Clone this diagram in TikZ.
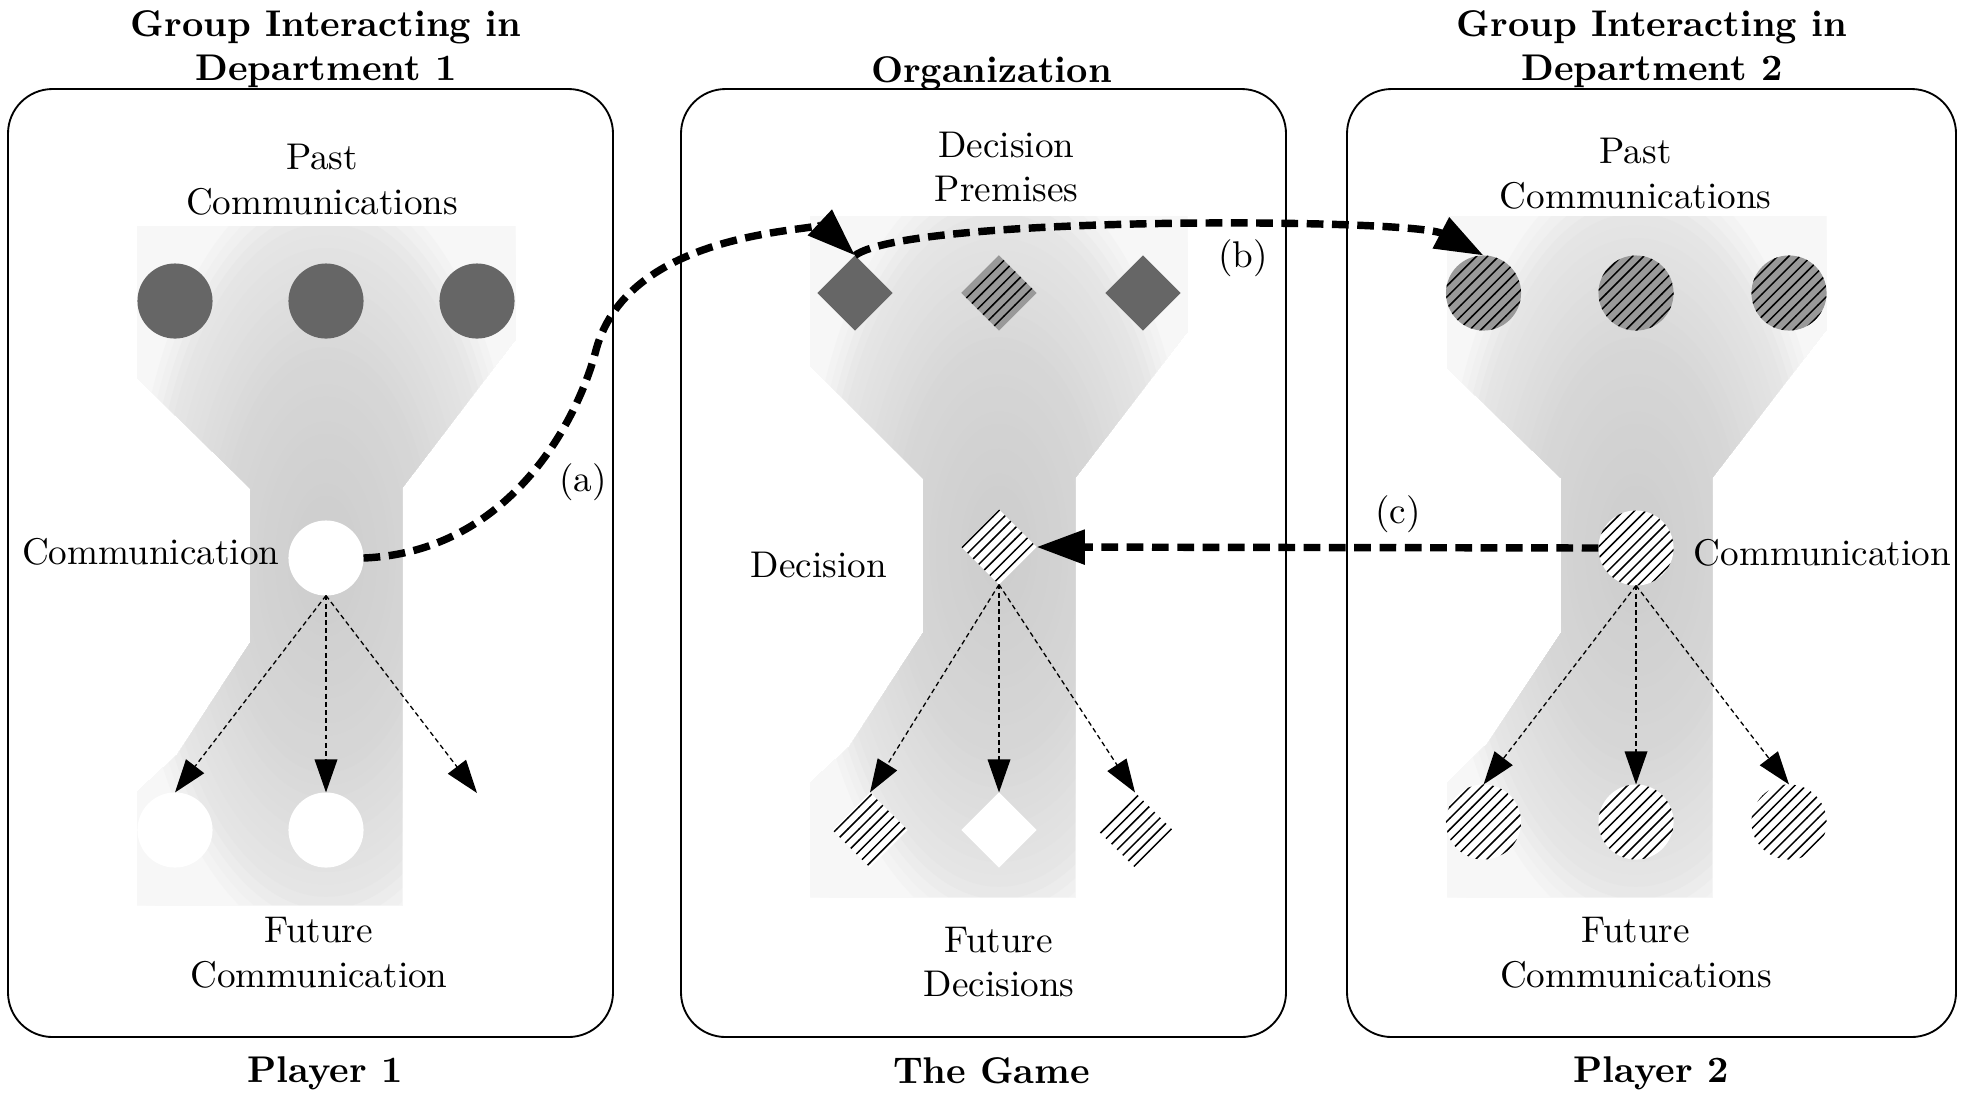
\documentclass[tikz,border=0pt]{standalone}
\usetikzlibrary{shapes.geometric,arrows.meta,patterns}
\newcommand{\funnelfill}[2]{%
  \foreach \i in {0,...,44}{%
    \pgfmathsetmacro{\rr}{1.4-\i*0.031}%
    \pgfmathsetmacro{\cc}{\rr<0.5 ? 20-8*\rr : (\rr<0.85 ? 16-6*(\rr-0.5)/0.35 : (\rr<1 ? 10-7*(\rr-0.85)/0.15 : 3))}%
    \fill[black!\cc] (#1,#2) ellipse [x radius={\rr*200}, y radius={\rr*400}];
  }}
\begin{document}
\begin{tikzpicture}[x=0.269pt,y=-0.269pt,
  box/.style={draw=black,line width=0.5pt,rounded corners=12pt},
  shp/.style={inner sep=0pt,outer sep=0pt,minimum size=20.2pt},
  circ/.style={shp,circle},
  dia/.style={shp,diamond},
  dk/.style={fill=black!60},
  hg/.style={fill=black!40,postaction={pattern=north east lines}},
  hw/.style={fill=white,postaction={pattern=north east lines}},
  wt/.style={fill=white},
  fut/.style={line width=0.35pt,dash pattern=on 1.3pt off 0.9pt,-{Triangle[length=8.9pt,width=6.1pt]}},
  big/.style={line width=2pt,dash pattern=on 4.5pt off 2.3pt,-{Triangle[length=13pt,width=9pt]}},
  lab/.style={align=center,inner sep=0pt},
  ttl/.style={lab,font=\bfseries}]
\useasboundingbox[fill=white] (0,0) rectangle (1966,1097);

% panels
\draw[box] (8,89) rectangle (613,1037);
\draw[box] (681,89) rectangle (1286,1037);
\draw[box] (1347,89) rectangle (1956,1037);

% funnels
\begin{scope}
\clip (137,226) -- (515,226) -- (515,340) -- (402,488) -- (402,905) -- (137,905) -- (137,792) -- (177,755) -- (250,643) -- (250,488) -- (137,378) -- cycle;
\funnelfill{326}{560}
\end{scope}
\begin{scope}
\clip (810,216) -- (1187,216) -- (1187,332) -- (1075,478) -- (1075,897) -- (810,897) -- (810,783) -- (849,747) -- (923,633) -- (923,478) -- (810,366) -- cycle;
\funnelfill{999}{550}
\end{scope}
\begin{scope}
\clip (1447,216) -- (1826,216) -- (1826,330) -- (1712,478) -- (1712,897) -- (1447,897) -- (1447,783) -- (1487,744) -- (1561,633) -- (1561,478) -- (1447,368) -- cycle;
\funnelfill{1636}{550}
\end{scope}

% left panel shapes
\node[circ,dk] (lp1) at (175,301) {};
\node[circ,dk] (lp2) at (326,301) {};
\node[circ,dk] (lp3) at (477,301) {};
\node[circ,wt] (lc) at (326,558) {};
\node[circ,wt] (lf1) at (175,830) {};
\node[circ,wt] (lf2) at (326,830) {};
\coordinate (lf3) at (477,793);

% middle panel shapes
\node[dia,dk] (mp1) at (855,293) {};
\node[dia,hg] (mp2) at (999,293) {};
\node[dia,dk] (mp3) at (1143,293) {};
\node[dia,hw] (md) at (999,547) {};
\node[dia,hw] (mf1) at (870,830) {};
\node[dia,wt] (mf2) at (999,830) {};
\node[dia,hw] (mf3) at (1135,830) {};

% right panel shapes
\node[circ,hg] (rp1) at (1483.5,293) {};
\node[circ,hg] (rp2) at (1636,293) {};
\node[circ,hg] (rp3) at (1789,293) {};
\node[circ,hw] (rc) at (1636,548) {};
\node[circ,hw] (rf1) at (1483.5,822) {};
\node[circ,hw] (rf2) at (1636,822) {};
\node[circ,hw] (rf3) at (1789,822) {};

% thin future arrows
\draw[fut] (lc.south) -- (lf1.north);
\draw[fut] (lc.south) -- (lf2.north);
\draw[fut] (lc.south) -- (lf3);
\draw[fut] (md.south) -- (mf1.north);
\draw[fut] (md.south) -- (mf2.north);
\draw[fut] (md.south) -- (mf3.north);
\draw[fut] (rc.south) -- (rf1.north);
\draw[fut] (rc.south) -- (rf2.north);
\draw[fut] (rc.south) -- (rf3.north);

% thick dashed arrows
\draw[big] (lc.east) .. controls (510,552) and (578,420) .. (596,350) .. controls (630,225) and (830,232) .. (mp1.north);
\draw[big] (mp1.north) .. controls (910,215) and (1413,218) .. (rp1.north);
\draw[big] (rc.west) -- (md.east);

% arrow labels
\node[lab] (la) at (583,482) {(a)};
\node[lab] (lb) at (1243,258) {(b)};
\node[lab] (lcc) at (1398,514) {(c)};

% inner labels
\node[lab] (lpast) at (322,180) {Past\\Communications};
\node[lab,anchor=base east] (lcom) at (280,564) {Communication};
\node[lab] (lfut) at (319,953) {Future\\Communication};
\node[lab] (mprem) at (1006.5,167) {Decision\\Premises};
\node[lab,anchor=base west] (mdec) at (750,577) {Decision};
\node[lab] (mfut) at (999,962) {Future\\Decisions};
\node[lab] (rpast) at (1635.5,174) {Past\\Communications};
\node[lab,anchor=base west] (rcom) at (1693,565) {Communication};
\node[lab] (rfut) at (1636,953) {Future\\Communications};

% titles
\node[ttl] (t1) at (326,49) {Group Interacting in\\Department 1};
\node[ttl,anchor=base] (t2) at (991.5,82) {Organization};
\node[ttl] (t3) at (1652,49) {Group Interacting in\\Department 2};
\node[ttl,anchor=base] (b1) at (325,1082) {Player 1};
\node[ttl,anchor=base] (b2) at (991.5,1083) {The Game};
\node[ttl,anchor=base] (b3) at (1651,1082) {Player 2};
\end{tikzpicture}
\end{document}
